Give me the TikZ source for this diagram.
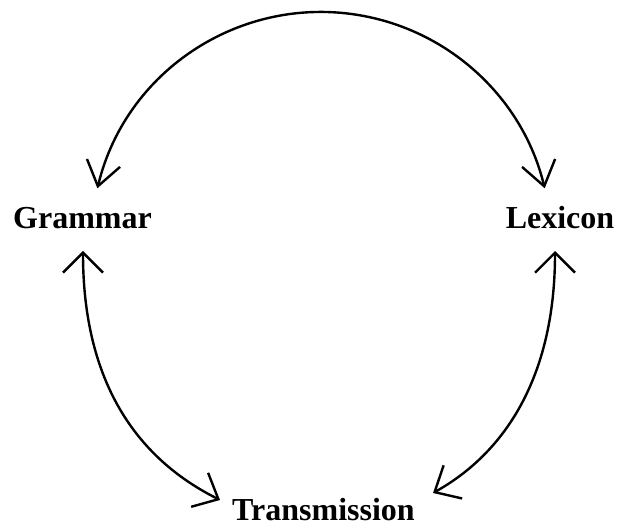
\documentclass[tikz,border=0pt]{standalone}
\usepackage{fontspec}
\setmainfont{Liberation Serif}
\usetikzlibrary{arrows.meta,calc}
\begin{document}
\begin{tikzpicture}[x=1pt,y=1pt,
  lbl/.style={font=\fontsize{32}{32}\selectfont\bfseries, inner sep=0pt, anchor=base},
  topend/.style={line width=2.4pt, line cap=round, {Straight Barb[length=24pt,width=34pt]}-{Straight Barb[length=24pt,width=34pt]}},
  lowend/.style={line width=2.4pt, line cap=round, {Straight Barb[length=20pt,width=40pt]}-{Straight Barb[length=21pt,width=38pt]}}]
\useasboundingbox (0,0) rectangle (617,527);
\node[lbl] (G) at (82.5,298) {Grammar};
\node[lbl] (L) at (560,298) {Lexicon};
\node[lbl] (T) at (323.5,6.5) {Transmission};
% top arc: Grammar <-> Lexicon
\draw[topend] ($(G.base)+(14.9,40.7)$) arc[start angle=166.5, end angle=13.5, radius=230];
% left arc: Grammar <-> Transmission
\draw[lowend] ($(G.base)+(0.5,-22)$) .. controls ($(G.base)+(0.5,-131)$) and ($(T.base)+(-203.5,70.5)$) .. ($(T.base)+(-103.5,20.5)$);
% right arc: Lexicon <-> Transmission
\draw[lowend] ($(L.base)+(-5,-22)$) .. controls ($(L.base)+(-5,-141)$) and ($(T.base)+(186.5,70.5)$) .. ($(T.base)+(109.5,27.5)$);
\end{tikzpicture}
\end{document}
